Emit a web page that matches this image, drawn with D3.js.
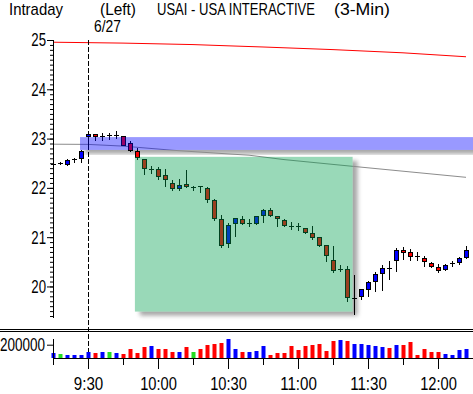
<!DOCTYPE html>
<html><head><meta charset="utf-8">
<script src="https://cdn.jsdelivr.net/npm/d3@7"></script>
<style>html,body{margin:0;padding:0;background:#fff;overflow:hidden}</style>
</head><body><svg id="c" width="473" height="394"></svg>
<script>
// ---------- DATA ----------
const prevDayTimes = ["15:45","15:48","15:51","15:54","15:57"];
const opens  = [22.48,22.50,22.48,22.58,22.60,23.05,23.09,23.06,23.07,23.08,
                23.05,22.91,22.74,22.58,22.38,22.38,22.26,22.09,22.00,22.08,
                22.01,22.03,21.99,21.76,21.37,20.89,21.28,21.37,21.28,21.28,
                21.44,21.55,21.43,21.35,21.22,21.22,21.18,21.09,21.00,20.84,
                20.54,20.35,20.36,19.76,19.80,19.95,20.12,20.27,20.37,20.53,
                20.74,20.70,20.61,20.57,20.47,20.40,20.35,20.47,20.49,20.59];
const highs  = [22.48,22.52,22.58,22.60,22.76,23.09,23.09,23.11,23.11,23.15,
                23.06,22.95,22.80,22.58,22.44,22.42,22.38,22.16,22.18,22.36,
                22.04,22.04,22.01,21.77,21.45,21.28,21.39,21.43,21.37,21.43,
                21.57,21.59,21.43,21.37,21.30,21.28,21.19,21.22,21.00,20.84,
                20.82,20.44,20.42,20.24,19.95,20.12,20.30,20.44,20.52,20.79,
                20.81,20.76,20.70,20.62,20.49,20.45,20.45,20.51,20.60,20.82];
const lows   = [22.41,22.48,22.46,22.52,22.52,22.87,22.97,22.97,22.99,23.01,
                22.86,22.74,22.58,22.28,22.31,22.18,22.04,21.95,21.95,22.01,
                21.95,21.91,21.72,21.34,20.81,20.81,21.03,21.26,21.22,21.26,
                21.30,21.42,21.23,21.22,21.16,21.15,21.08,20.96,20.82,20.51,
                20.30,20.32,19.70,19.45,19.75,19.80,19.90,19.92,20.15,20.32,
                20.56,20.53,20.53,20.41,20.40,20.30,20.33,20.42,20.45,20.57];
const closes = [22.48,22.50,22.56,22.58,22.74,23.09,23.05,23.06,23.07,23.08,
                22.87,22.76,22.62,22.40,22.38,22.24,22.18,21.99,22.06,22.03,
                22.01,22.03,21.77,21.39,20.84,21.25,21.39,21.28,21.28,21.43,
                21.55,21.44,21.39,21.24,21.22,21.22,21.11,21.01,20.84,20.63,
                20.34,20.35,19.78,19.76,19.95,20.09,20.26,20.37,20.37,20.73,
                20.70,20.61,20.61,20.51,20.42,20.34,20.44,20.47,20.57,20.73];
const volumes = [75000,60000,45000,45000,45000,90000,75000,90000,90000,75000,
                 60000,135000,75000,165000,185000,135000,135000,90000,90000,165000,
                 90000,135000,195000,210000,225000,285000,135000,90000,90000,105000,
                 180000,45000,75000,75000,180000,120000,180000,195000,210000,105000,
                 255000,270000,255000,210000,210000,195000,180000,165000,150000,195000,
                 195000,240000,45000,135000,90000,90000,60000,45000,120000,135000];
const volDir = ["u","n","u","u","u","u","d","u","n","u",
                "d","d","d","d","u","d","d","d","u","d",
                "n","d","d","d","d","u","u","d","u","u",
                "u","d","d","d","d","d","d","d","d","d",
                "d","u","d","u","u","u","u","u","d","u",
                "d","d","d","d","d","d","u","u","u","u"];
const redMaIdx  = [0,10,20,25,30,40,50,59];
const redMa     = [24.955,24.937,24.907,24.882,24.858,24.805,24.74,24.66];
const grayMaIdx = [0,5,10,17,20,25,28,33,40,50,59];
const grayMa    = [22.886,22.882,22.847,22.764,22.736,22.689,22.663,22.574,22.476,22.338,22.214];
const priceTicks = [20,21,22,23,24,25];
const volTicks   = [200000];
const timeTickLabels = ["9:30","10:00","10:30","11:00","11:30","12:00"];
const minorTimeTicks = ["15:45","9:45","10:15","10:45","11:15","11:45"];
const blueZone  = {from:3.86, lo:22.77, hi:23.03};
const greenZone = {from:11.7, to:42.8, lo:19.49, hi:22.63};
const dayBreak = "9:30";
const headerTexts = ["Intraday","(Left)","6/27"];
const titleParts = ["USAI - USA INTERACTIVE","(3-Min)"];

// times of bars
const times = prevDayTimes.slice();
for (let k = 0; k < 55; k++) { const m = 9*60+30+3*k; times.push(Math.floor(m/60)+":"+String(m%60).padStart(2,"0")); }

// ---------- LAYOUT ----------
const FONT = "'Liberation Sans',Arial,sans-serif";
const FS = 17.5;
const CHAR_W = 7.35;
const svg = d3.select("#c");
const x = d3.scaleLinear().domain([0, times.length-1]).range([53, 466]);
const y = d3.scaleLinear().domain([19.36, 25]).range([318, 40]);
const vy = d3.scaleLinear().domain([0, 400000]).range([358, 331.4]);
const R = v => Math.round(v) + 0.5;
function fitText(sel, w, fs){
  sel.attr("font-family",FONT).attr("font-size",fs||FS).attr("fill","#000")
     .each(function(){ this.setAttribute("textLength", w!==undefined ? w : this.textContent.length*CHAR_W);
                       this.setAttribute("lengthAdjust","spacingAndGlyphs"); });
}

const defs = svg.append("defs");
defs.append("filter").attr("id","blur").attr("x","-20%").attr("y","-20%").attr("width","140%").attr("height","140%")
  .append("feGaussianBlur").attr("stdDeviation", 2);

function zoneRect(z){
  const x0 = x(z.from), x1 = z.to!==undefined ? x(z.to) : 473;
  return {x:x0, y:y(z.hi), w:x1-x0, h:y(z.lo)-y(z.hi)};
}
const gR = zoneRect(greenZone), bR = zoneRect(blueZone);
[["mG",gR],["mB",bR]].forEach(([id,r])=>{
  const m = defs.append("mask").attr("id",id);
  m.append("rect").attr("x",0).attr("y",0).attr("width",473).attr("height",394).attr("fill","#fff");
  m.append("rect").attr("x",r.x).attr("y",r.y).attr("width",r.w).attr("height",r.h).attr("fill","#000");
});

// shadows
[["mG",gR],["mB",bR]].forEach(([id,r])=>{
  svg.append("g").attr("mask",`url(#${id})`)
    .append("rect").attr("x",r.x+5).attr("y",r.y+4).attr("width",r.w).attr("height",r.h)
    .attr("fill","#8a8a8a").attr("opacity",0.75).attr("filter","url(#blur)");
});

// MA lines
const lineGen = d3.line().x(d=>x(d[0])).y(d=>y(d[1]));
svg.append("path").attr("d", lineGen(redMaIdx.map((k,i)=>[k,redMa[i]])))
  .attr("fill","none").attr("stroke","#ff0000").attr("stroke-width",1);
svg.append("path").attr("d", lineGen(grayMaIdx.map((k,i)=>[k,grayMa[i]])))
  .attr("fill","none").attr("stroke","#8c8c8c").attr("stroke-width",1);

// day break dashed line
const xb = x(times.indexOf(dayBreak)) + 0.5;
svg.append("line").attr("x1",xb).attr("x2",xb).attr("y1",y(25)).attr("y2",358)
  .attr("stroke","#000").attr("stroke-dasharray","5,2");

// candles
const cg = svg.append("g");
times.forEach((t,i)=>{
  const cx = x(i) + 0.5;
  cg.append("line").attr("x1",cx).attr("x2",cx).attr("y1",R(y(highs[i]))-0.5).attr("y2",R(y(lows[i]))+0.5)
    .attr("stroke","#000");
  const o = opens[i], c = closes[i];
  if (o === c) {
    cg.append("line").attr("x1",cx-2.5).attr("x2",cx+2.5).attr("y1",R(y(o))).attr("y2",R(y(o))).attr("stroke","#000");
  } else {
    const top = R(y(Math.max(o,c))), bot = R(y(Math.min(o,c)));
    cg.append("rect").attr("x",cx-2).attr("y",top).attr("width",4).attr("height",Math.max(1,bot-top))
      .attr("fill", c>o ? "#0000ff" : "#ff0000").attr("stroke","#000");
  }
});

// translucent zones on top
svg.append("rect").attr("x",gR.x).attr("y",gR.y).attr("width",gR.w).attr("height",gR.h)
  .attr("fill","rgb(0,160,77)").attr("fill-opacity",0.4);
svg.append("rect").attr("x",bR.x).attr("y",bR.y).attr("width",bR.w).attr("height",bR.h)
  .attr("fill","rgb(0,0,255)").attr("fill-opacity",0.4);

// price axis
const ax = svg.append("g").attr("transform","translate(53,0)");
const minorVals = d3.range(194, 251).map(v=>v/10);
ax.append("g").call(d3.axisLeft(y).tickValues(minorVals).tickSize(3).tickFormat("")).call(g=>g.select(".domain").remove());
ax.append("g").call(d3.axisLeft(y).tickValues(priceTicks).tickSize(6).tickFormat(d3.format("d")))
  .call(g=>g.select(".domain").remove())
  .call(g=>{ const t=g.selectAll("text").attr("x",-7).attr("dy","0.34em"); fitText(t); });
ax.append("line").attr("x1",0.5).attr("x2",0.5).attr("y1",y(25)).attr("y2",318).attr("stroke","#000");
ax.selectAll(".tick line").attr("stroke","#000");

// panel separator (double line)
[329.5, 331.5].forEach(v=>svg.append("line").attr("x1",0).attr("x2",473).attr("y1",v).attr("y2",v).attr("stroke","#000"));

// volume bars
const volColor = {u:"#0000ff", d:"#ff0000", n:"#22dd22"};
svg.append("g").selectAll("rect").data(volumes).join("rect")
  .attr("x",(d,i)=>x(i)-1.5).attr("width",4)
  .attr("y",d=>Math.round(vy(d))).attr("height",d=>358-Math.round(vy(d)))
  .attr("fill",(d,i)=>volColor[volDir[i]]);

// volume axis
const vax = svg.append("g").attr("transform","translate(53,0)");
vax.call(d3.axisLeft(vy).tickValues(volTicks).tickSize(6).tickFormat(d3.format("d")))
  .call(g=>g.select(".domain").remove())
  .call(g=>{ const t=g.selectAll("text").attr("x",-8).attr("dy","0.34em"); fitText(t, 45); });
vax.append("line").attr("x1",0.5).attr("x2",0.5).attr("y1",339).attr("y2",358).attr("stroke","#000");
vax.selectAll(".tick line").attr("stroke","#000");

// time axis
svg.append("line").attr("x1",53).attr("x2",473).attr("y1",358.5).attr("y2",358.5).attr("stroke","#000");
const tx = svg.append("g").attr("transform","translate(0,358)");
tx.append("g").call(d3.axisBottom(x).tickValues(minorTimeTicks.map(t=>times.indexOf(t))).tickSize(7).tickFormat(""))
  .call(g=>g.select(".domain").remove());
tx.append("g").call(d3.axisBottom(x).tickValues(timeTickLabels.map(t=>times.indexOf(t))).tickSize(11).tickFormat(i=>times[i]))
  .call(g=>g.select(".domain").remove())
  .call(g=>{ const t=g.selectAll("text").attr("y",19.5).attr("dy","0.71em"); fitText(t); });
tx.selectAll(".tick line").attr("stroke","#000");

// header texts
const hdrPos = [[9,15,54],[100,15,36],[94,31.5,27]];
headerTexts.forEach((s,i)=>{
  const [xx,yy,w] = hdrPos[i];
  fitText(svg.append("text").attr("x",xx).attr("y",yy).text(s), w, 17);
});
// title as one text with two spans
const titlePos = [[157,158],[334,56]];
const tt = svg.append("text").attr("y",15).attr("font-family",FONT).attr("font-size",17).attr("fill","#000");
titleParts.forEach((s,i)=>{
  tt.append("tspan").attr("x",titlePos[i][0]).attr("textLength",titlePos[i][1])
    .attr("lengthAdjust","spacingAndGlyphs").text(s);
});
</script></body></html>
